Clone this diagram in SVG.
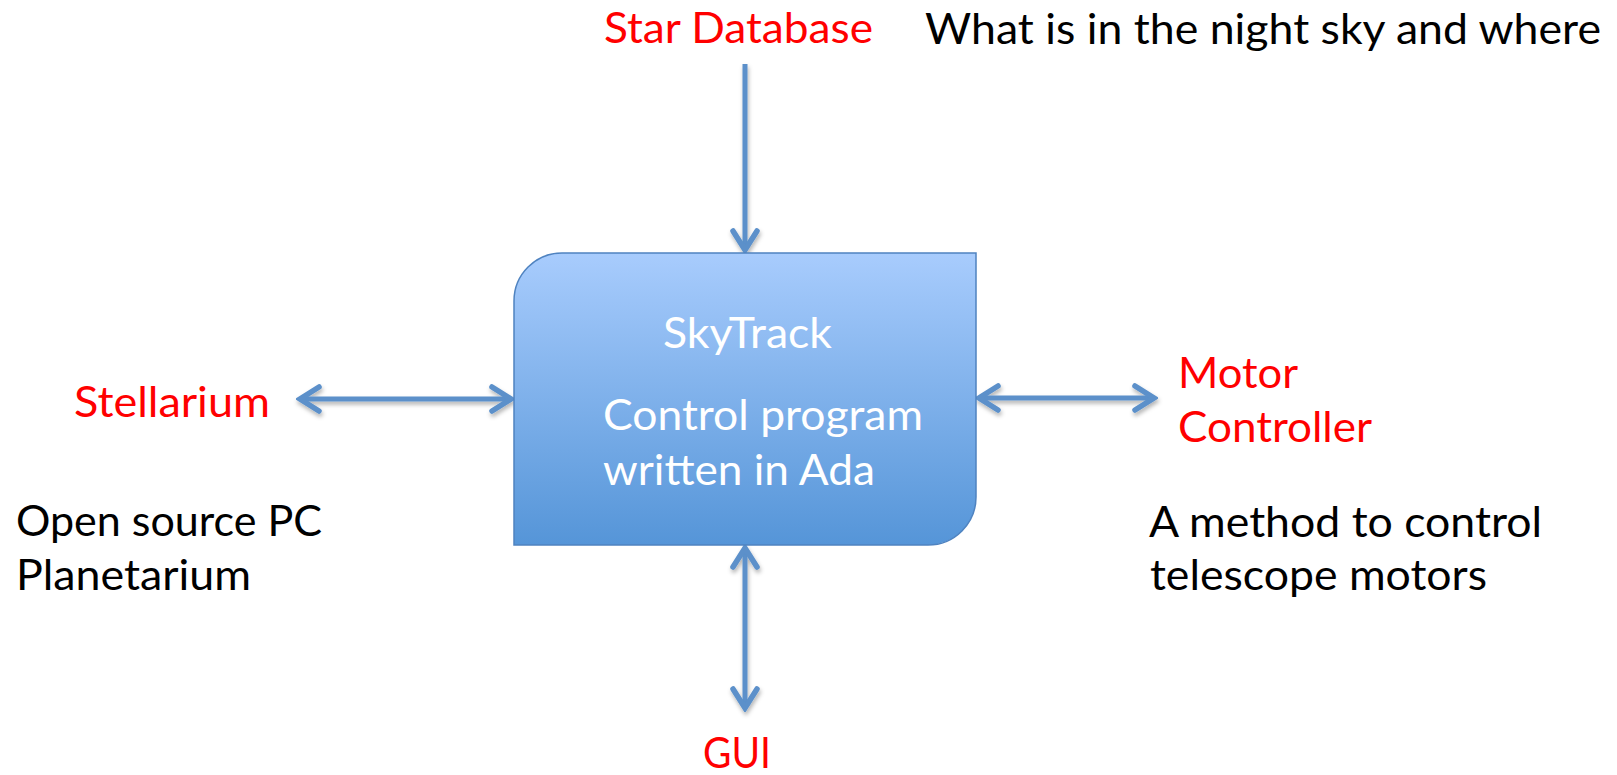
<svg xmlns="http://www.w3.org/2000/svg" width="1617" height="775" viewBox="0 0 1617 775">
  <defs>
    <style>
      text { font-family: Lato, "Open Sans", "Liberation Sans", sans-serif; font-size: 42px; }
      .red { fill: #FF0000; }
      .note { fill: #000000; }
      .inner { fill: #FFFFFF; }
      .link { fill: none; stroke: #5B90CA; stroke-width: 5; marker-end: url(#head); }
      .both { marker-start: url(#head); }
    </style>
    <linearGradient id="boxFill" x1="0" y1="0" x2="0" y2="1">
      <stop offset="0" stop-color="#A8CCFD"/>
      <stop offset="1" stop-color="#5595D8"/>
    </linearGradient>
    <marker id="head" markerUnits="userSpaceOnUse" markerWidth="30" markerHeight="30" viewBox="-26 -15 30 30" refX="0" refY="0" orient="auto-start-reverse">
      <path d="M -19 -12 L 0 0 L -19 12" fill="none" stroke="#5B90CA" stroke-width="5.5" stroke-linecap="round" stroke-linejoin="miter"/>
    </marker>
    <filter id="shade" x="-20%" y="-20%" width="140%" height="140%">
      <feDropShadow dx="1" dy="3" stdDeviation="2" flood-color="#000" flood-opacity="0.3"/>
    </filter>
  </defs>

  <rect width="1617" height="775" fill="#FFFFFF"/>

  <!-- connectors -->
  <g id="connectors" filter="url(#shade)">
    <line class="link" x1="745" y1="64" x2="745" y2="250"/>
    <line class="link both" x1="300" y1="399" x2="511" y2="399"/>
    <line class="link both" x1="979" y1="398" x2="1154" y2="398"/>
    <line class="link both" x1="745" y1="548" x2="745" y2="708"/>
  </g>

  <!-- central program block -->
  <g id="skytrack">
    <path d="M 562 253 H 976 V 497 A 48 48 0 0 1 928 545 H 514 V 301 A 48 48 0 0 1 562 253 Z" fill="url(#boxFill)" stroke="#4F83C0" stroke-width="1.5"/>
    <text class="inner" x="663" y="348" textLength="169" lengthAdjust="spacingAndGlyphs">SkyTrack</text>
    <text class="inner" x="603" y="430" textLength="320" lengthAdjust="spacingAndGlyphs">Control program</text>
    <text class="inner" x="603" y="485" textLength="272" lengthAdjust="spacingAndGlyphs">written in Ada</text>
  </g>

  <g id="star-database">
    <text class="red" x="604" y="43" textLength="269" lengthAdjust="spacingAndGlyphs">Star Database</text>
    <text class="note" x="925" y="44" textLength="676" lengthAdjust="spacingAndGlyphs">What is in the night sky and where</text>
  </g>

  <g id="stellarium">
    <text class="red" x="74" y="417" textLength="196" lengthAdjust="spacingAndGlyphs">Stellarium</text>
    <text class="note" x="16" y="536" textLength="306" lengthAdjust="spacingAndGlyphs">Open source PC</text>
    <text class="note" x="16" y="590" textLength="235" lengthAdjust="spacingAndGlyphs">Planetarium</text>
  </g>

  <g id="motor-controller">
    <text class="red" x="1178" y="388" textLength="120" lengthAdjust="spacingAndGlyphs">Motor</text>
    <text class="red" x="1178" y="442" textLength="194" lengthAdjust="spacingAndGlyphs">Controller</text>
    <text class="note" x="1149" y="537" textLength="393" lengthAdjust="spacingAndGlyphs">A method to control</text>
    <text class="note" x="1150" y="590" textLength="337" lengthAdjust="spacingAndGlyphs">telescope motors</text>
  </g>

  <g id="gui">
    <text class="red" x="703" y="768" textLength="68" lengthAdjust="spacingAndGlyphs">GUI</text>
  </g>
</svg>
